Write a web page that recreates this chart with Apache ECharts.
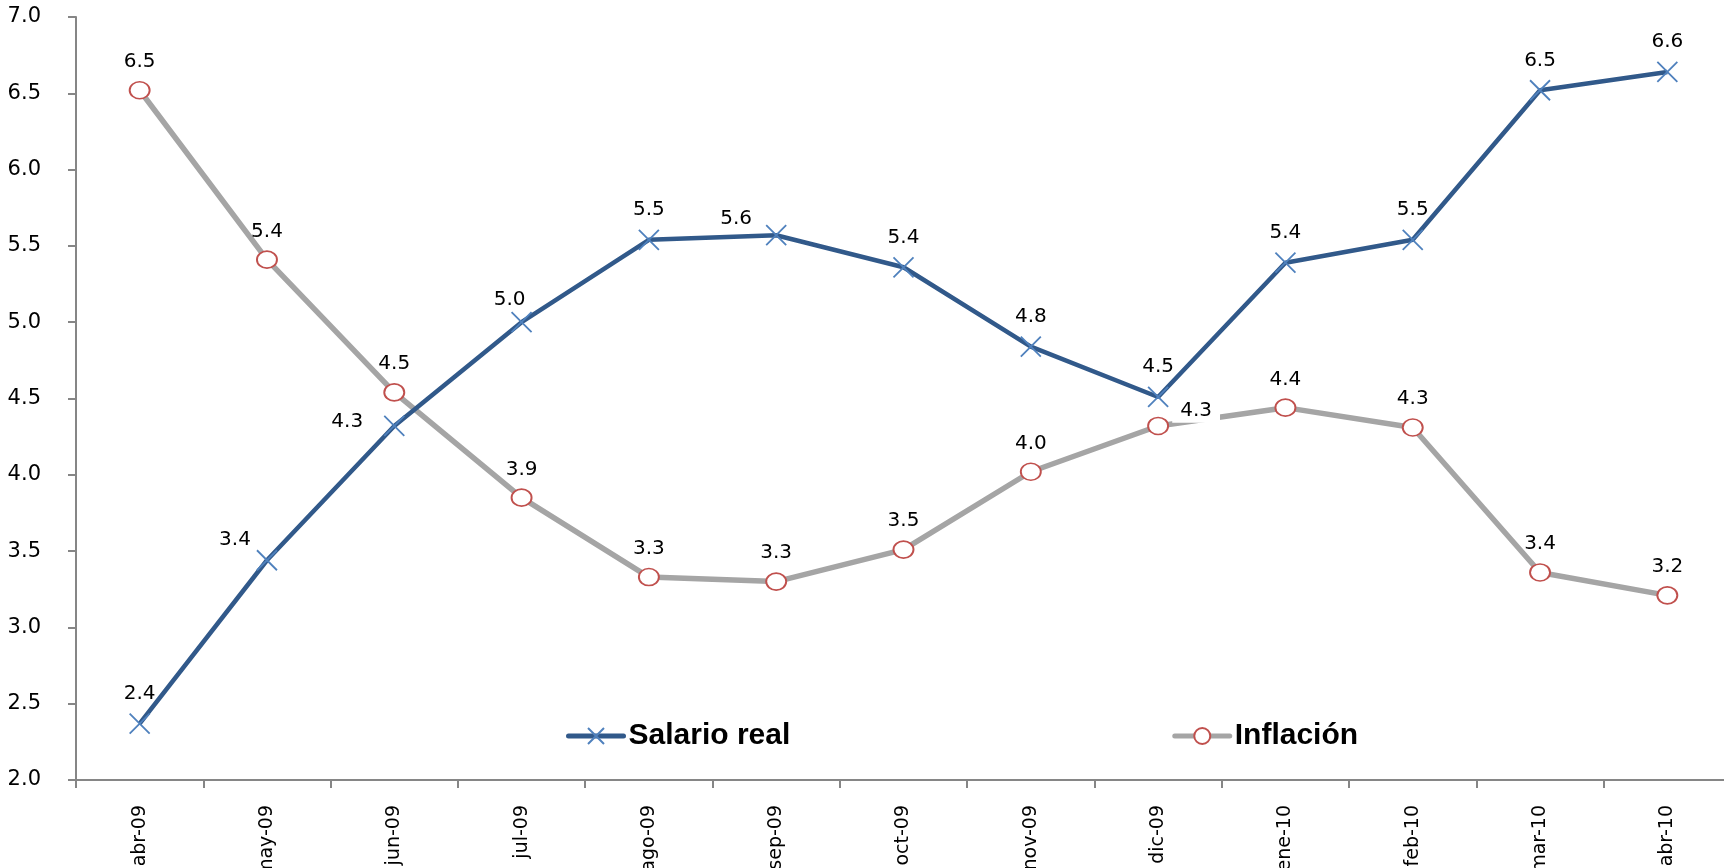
<!DOCTYPE html>
<html>
<head>
<meta charset="utf-8">
<script src="https://cdn.jsdelivr.net/npm/echarts@6/dist/echarts.min.js"></script>
<style>
  html, body { margin: 0; padding: 0; background: #fff; }
  #chart { width: 1724px; height: 868px; }
</style>
</head>
<body>
<div id="chart"></div>
<script>
const months = ['abr-09', 'may-09', 'jun-09', 'jul-09', 'ago-09', 'sep-09', 'oct-09',
                'nov-09', 'dic-09', 'ene-10', 'feb-10', 'mar-10', 'abr-10'];
const salarioReal = [2.37, 3.44, 4.32, 5.00, 5.54, 5.57, 5.36, 4.84, 4.51, 5.39, 5.54, 6.52, 6.64];
const inflacion = [6.52, 5.41, 4.54, 3.85, 3.33, 3.30, 3.51, 4.02, 4.32, 4.44, 4.31, 3.36, 3.21];
const yTicks = { min: 2, max: 7, step: 0.5 };

const labelFont = 'DejaVu Sans, Verdana, sans-serif';

// a few labels sit beside the point instead of above it
const salarioLabelShift = { 1: [-32, 9], 2: [-47, 26], 3: [-12, 7], 5: [-40, 13] };
const inflacionLabelShift = { 8: [38, 15] };

function withLabels(values, shifts, extra) {
    return values.map((v, i) => {
        const item = { value: v };
        if (shifts[i]) {
            item.label = Object.assign({ offset: shifts[i] }, extra || {});
        }
        return item;
    });
}

const chart = echarts.init(document.getElementById('chart'));

const baseLabel = {
    show: true,
    position: 'top',
    distance: 9,
    color: '#000',
    fontFamily: labelFont,
    fontSize: 20,
    formatter: p => p.value.toFixed(1)
};

const option = {
    animation: false,
    grid: { left: 76, top: 17, bottom: 88, width: 1655, outerBoundsMode: 'none', containLabel: false },
    legend: {
        left: 561,
        top: 716,
        itemGap: 382,
        itemWidth: 55,
        itemHeight: 20,
        lineStyle: { width: 5, cap: 'round' },
        textStyle: {
            fontFamily: 'Liberation Sans, Arial, sans-serif',
            fontWeight: 'bold',
            fontSize: 30,
            color: '#000'
        },
        data: ['Salario real', 'Inflación']
    },
    xAxis: {
        type: 'category',
        data: months,
        boundaryGap: true,
        axisLine: { lineStyle: { color: '#868686', width: 2 } },
        axisTick: { show: true, interval: 0, length: 8, lineStyle: { color: '#868686', width: 2 } },
        axisLabel: {
            interval: 0,
            rotate: 90,
            margin: 25,
            fontFamily: labelFont,
            fontSize: 19,
            color: '#000'
        },
        splitLine: { show: false }
    },
    yAxis: {
        type: 'value',
        min: yTicks.min,
        max: yTicks.max,
        interval: yTicks.step,
        axisLine: { show: true, lineStyle: { color: '#868686', width: 2 } },
        axisTick: { show: true, length: 8, lineStyle: { color: '#868686', width: 2 } },
        axisLabel: {
            margin: 35,
            fontFamily: labelFont,
            fontSize: 21,
            color: '#000',
            formatter: v => v.toFixed(1)
        },
        splitLine: { show: false }
    },
    series: [
        {
            name: 'Salario real',
            type: 'line',
            data: withLabels(salarioReal, salarioLabelShift),
            symbol: 'path://M0,0L10,10M10,0L0,10',
            symbolSize: 20,
            showAllSymbol: true,
            z: 3,
            lineStyle: { color: '#31598A', width: 4.5 },
            itemStyle: { color: '#4F81BD', borderColor: '#4F81BD', borderWidth: 1.8 },
            label: baseLabel
        },
        {
            name: 'Inflación',
            type: 'line',
            data: withLabels(inflacion, inflacionLabelShift, { backgroundColor: '#fff', padding: [2, 8] }),
            symbol: 'circle',
            symbolSize: [20, 17],
            showAllSymbol: true,
            z: 2,
            lineStyle: { color: '#A5A5A5', width: 5.5 },
            itemStyle: { color: '#fff', borderColor: '#C0504D', borderWidth: 1.8 },
            label: baseLabel
        }
    ]
};

chart.setOption(option);
</script>
</body>
</html>
